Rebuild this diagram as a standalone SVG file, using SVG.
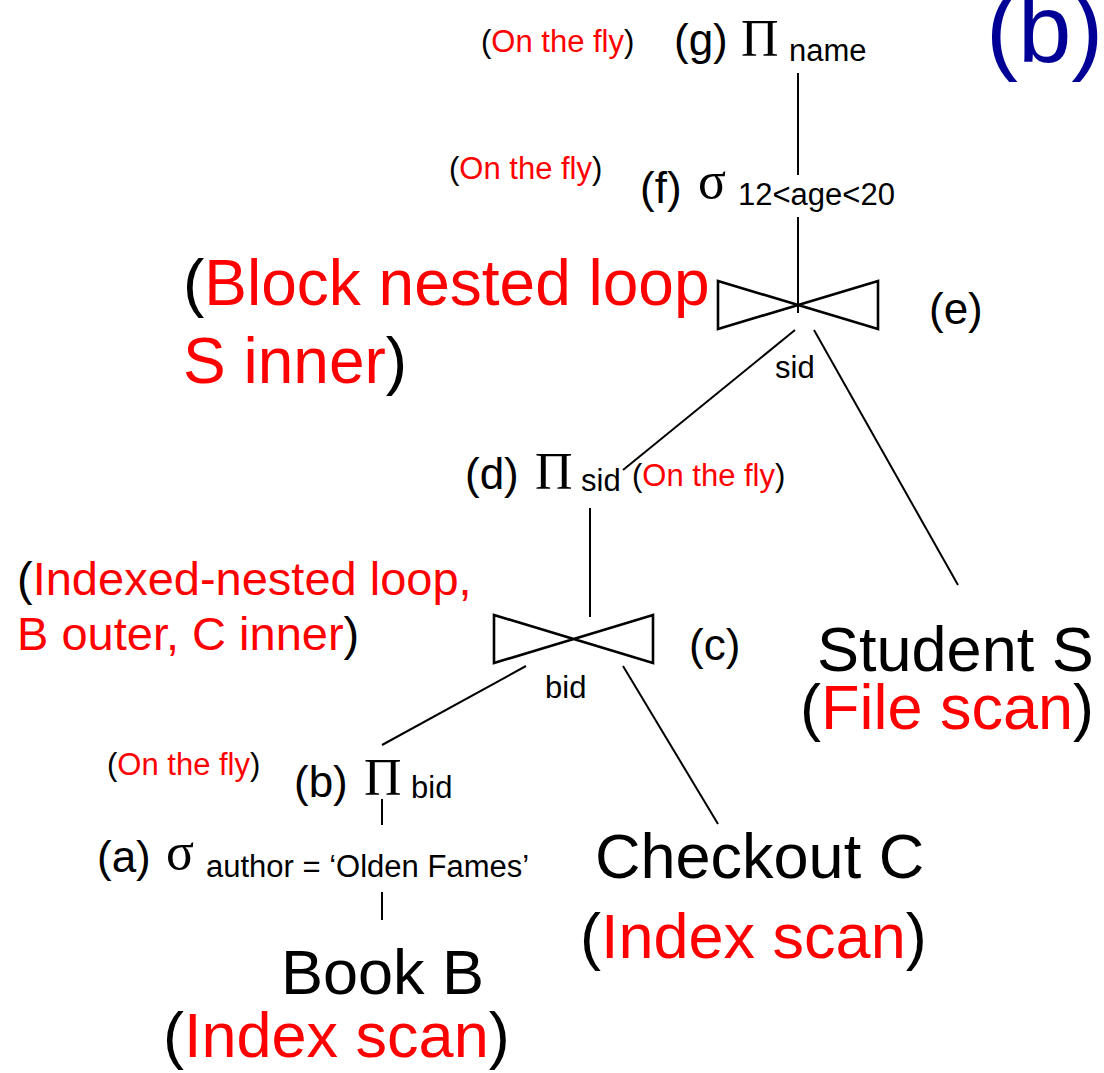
<svg xmlns="http://www.w3.org/2000/svg" width="1104" height="1073" viewBox="0 0 1104 1073">
<style>
text{font-family:"Liberation Sans",Arial,sans-serif;fill:#000}
.r{fill:#ff0000}
.g{font-family:"Liberation Serif","Times New Roman",serif;font-size:52px}
.m{font-size:44px}
.s{font-size:31px}
.big{font-size:64px}
.mid{font-size:47px}
.rel{font-size:63px}
.ln{stroke:#000;stroke-width:2;fill:none}
.bow{stroke:#000;stroke-width:2.6;fill:none;stroke-linejoin:miter}
</style>
<rect width="1104" height="1073" fill="#fff"/>
<g id="connectors">
<line class="ln" x1="798" y1="73" x2="798" y2="175"/>
<line class="ln" x1="798" y1="217" x2="798" y2="313"/>
<line class="ln" x1="795" y1="330" x2="623" y2="470"/>
<line class="ln" x1="814" y1="330" x2="958" y2="585"/>
<line class="ln" x1="590" y1="508" x2="590" y2="617"/>
<line class="ln" x1="526" y1="666" x2="382" y2="745"/>
<line class="ln" x1="623" y1="666" x2="718" y2="824"/>
<line class="ln" x1="382" y1="799" x2="382" y2="825"/>
<line class="ln" x1="382" y1="892" x2="382" y2="920"/>
</g>
<g id="title"><text x="986" y="62" style="font-size:96px;fill:#000096">(b)</text></g>
<g id="node-g">
<text class="s" x="481" y="52">(<tspan class="r">On the fly</tspan>)</text>
<text class="m" x="674" y="55">(g)</text>
<text class="g" x="741" y="56">Π</text>
<text class="s" x="789" y="61">name</text>
</g>
<g id="node-f">
<text class="s" x="449" y="179">(<tspan class="r">On the fly</tspan>)</text>
<text class="m" x="640" y="203">(f)</text>
<text class="g" x="698" y="198">σ</text>
<text class="s" x="738" y="205">12&lt;age&lt;20</text>
</g>
<g id="node-e">
<polygon class="bow" points="718,281 878,329 878,281 718,329"/>
<text class="big" x="183" y="305">(<tspan class="r">Block nested loop</tspan></text>
<text class="big" x="183" y="383"><tspan class="r">S inner</tspan>)</text>
<text class="m" x="929" y="324">(e)</text>
<text class="s" x="775" y="378">sid</text>
</g>
<g id="node-d">
<text class="m" x="465" y="489">(d)</text>
<text class="g" x="535" y="489">Π</text>
<text class="s" x="581" y="491">sid</text>
<text class="s" x="632" y="486">(<tspan class="r">On the fly</tspan>)</text>
</g>
<g id="node-c">
<polygon class="bow" points="494,615 653,663 653,615 494,663"/>
<text class="mid" x="17" y="595">(<tspan class="r">Indexed-nested loop,</tspan></text>
<text class="mid" x="17" y="650"><tspan class="r">B outer, C inner</tspan>)</text>
<text class="m" x="689" y="660">(c)</text>
<text class="s" x="545" y="698">bid</text>
</g>
<g id="node-student">
<text class="rel" x="817" y="671">Student S</text>
<text class="rel" x="800" y="729">(<tspan class="r">File scan</tspan>)</text>
</g>
<g id="node-b">
<text class="s" x="107" y="775">(<tspan class="r">On the fly</tspan>)</text>
<text class="m" x="294" y="797">(b)</text>
<text class="g" x="364" y="795">Π</text>
<text class="s" x="411" y="798">bid</text>
</g>
<g id="node-a">
<text class="m" x="97" y="872">(a)</text>
<text class="g" x="166" y="869">σ</text>
<text class="s" x="206" y="877">author = ‘Olden Fames’</text>
</g>
<g id="node-checkout">
<text class="rel" x="595" y="878">Checkout C</text>
<text class="rel" x="580" y="958">(<tspan class="r">Index scan</tspan>)</text>
</g>
<g id="node-book">
<text class="rel" x="281" y="994">Book B</text>
<text class="rel" x="163" y="1057">(<tspan class="r">Index scan</tspan>)</text>
</g>
</svg>
